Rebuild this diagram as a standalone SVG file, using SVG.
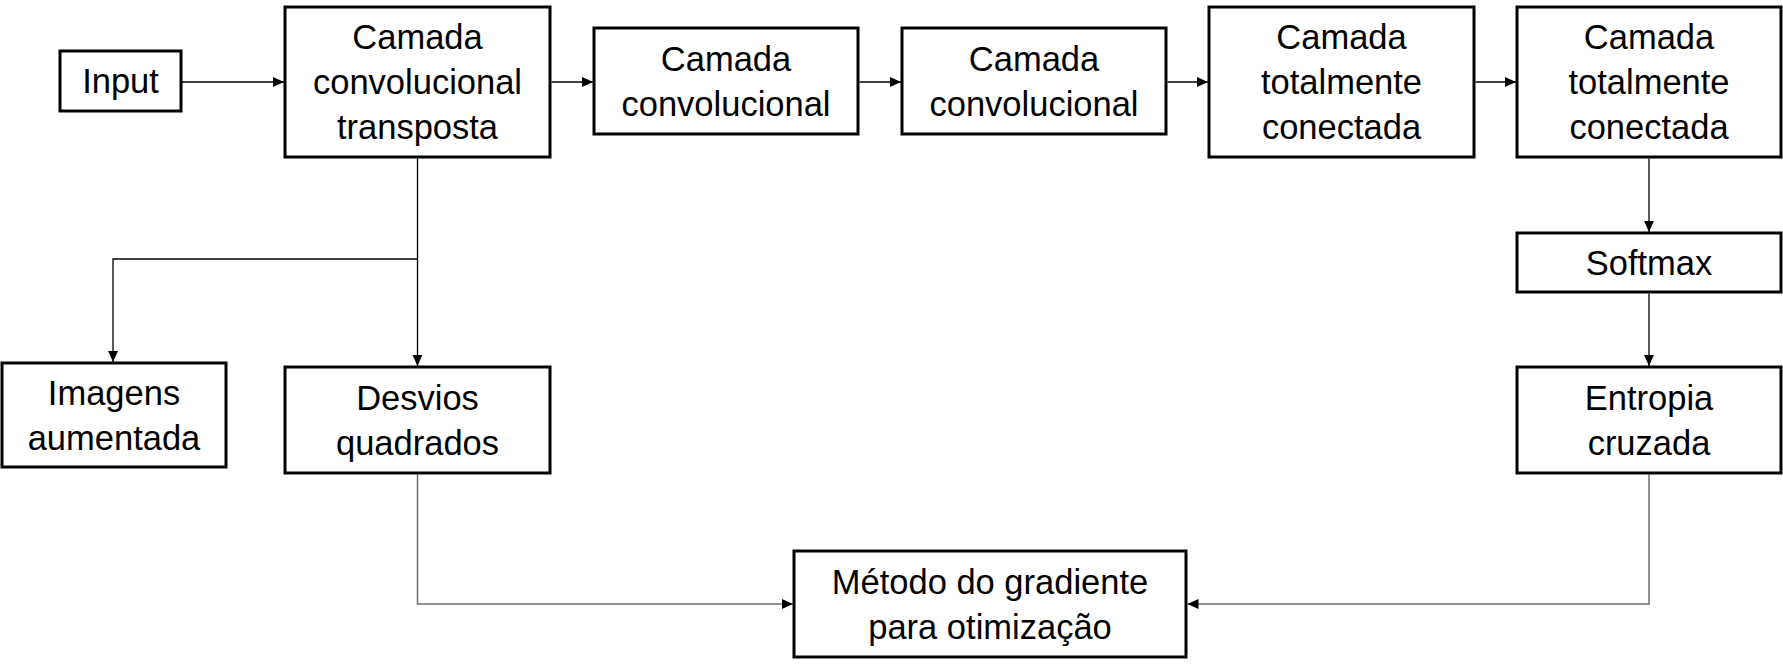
<svg xmlns="http://www.w3.org/2000/svg" width="1783" height="672" viewBox="0 0 1783 672">
<style>
.box{fill:#fff;stroke:#000;stroke-width:3}
.t{font-family:"Liberation Sans",Arial,sans-serif;font-size:34.5px;fill:#000;text-anchor:middle}
.c{fill:none;stroke:#000;stroke-width:1.3}
.g{fill:none;stroke:#6e6e6e;stroke-width:1.5}
</style>
<defs>
<marker id="ah" viewBox="0 0 10 10" refX="10" refY="5" markerWidth="11" markerHeight="11" markerUnits="userSpaceOnUse" orient="auto">
<path d="M0,0.5 L10,5 L0,9.5 z" fill="#000"/>
</marker>
</defs>
<rect width="1783" height="672" fill="#fff"/>
<g id="connectors">
<path class="c" d="M181.5,82 H284" marker-end="url(#ah)"/>
<path class="c" d="M551.5,82 H593" marker-end="url(#ah)"/>
<path class="c" d="M859.5,82 H901" marker-end="url(#ah)"/>
<path class="c" d="M1167.5,82 H1208" marker-end="url(#ah)"/>
<path class="c" d="M1475.5,82 H1516" marker-end="url(#ah)"/>
<path class="c" d="M1649,158.5 V232" marker-end="url(#ah)"/>
<path class="c" d="M1649,293.5 V366" marker-end="url(#ah)"/>
<path class="c" d="M417.5,158.5 V366" marker-end="url(#ah)"/>
<path class="c" d="M417.5,259 H113 V362" marker-end="url(#ah)"/>
<path class="g" d="M417.5,474.5 V604 H793" marker-end="url(#ah)"/>
<path class="g" d="M1649,474.5 V604 H1187.5" marker-end="url(#ah)"/>
</g>
<g id="input">
<rect class="box" x="60" y="51" width="121" height="60"/>
<text class="t" x="120.5" y="93">Input</text>
</g>
<g id="transposta">
<rect class="box" x="285" y="7" width="265" height="150"/>
<text class="t" x="417.5" y="49">Camada</text>
<text class="t" x="417.5" y="94">convolucional</text>
<text class="t" x="417.5" y="139">transposta</text>
</g>
<g id="conv1">
<rect class="box" x="594" y="28" width="264" height="106"/>
<text class="t" x="726" y="70.5">Camada</text>
<text class="t" x="726" y="115.5">convolucional</text>
</g>
<g id="conv2">
<rect class="box" x="902" y="28" width="264" height="106"/>
<text class="t" x="1034" y="70.5">Camada</text>
<text class="t" x="1034" y="115.5">convolucional</text>
</g>
<g id="fc1">
<rect class="box" x="1209" y="7" width="265" height="150"/>
<text class="t" x="1341.5" y="49">Camada</text>
<text class="t" x="1341.5" y="94">totalmente</text>
<text class="t" x="1341.5" y="139">conectada</text>
</g>
<g id="fc2">
<rect class="box" x="1517" y="7" width="264" height="150"/>
<text class="t" x="1649" y="49">Camada</text>
<text class="t" x="1649" y="94">totalmente</text>
<text class="t" x="1649" y="139">conectada</text>
</g>
<g id="softmax">
<rect class="box" x="1517" y="233" width="264" height="59"/>
<text class="t" x="1649" y="274.5">Softmax</text>
</g>
<g id="entropia">
<rect class="box" x="1517" y="367" width="264" height="106"/>
<text class="t" x="1649" y="409.5">Entropia</text>
<text class="t" x="1649" y="454.5">cruzada</text>
</g>
<g id="imagens">
<rect class="box" x="2" y="363" width="224" height="104"/>
<text class="t" x="114" y="404.5">Imagens</text>
<text class="t" x="114" y="449.5">aumentada</text>
</g>
<g id="desvios">
<rect class="box" x="285" y="367" width="265" height="106"/>
<text class="t" x="417.5" y="409.5">Desvios</text>
<text class="t" x="417.5" y="454.5">quadrados</text>
</g>
<g id="gradiente">
<rect class="box" x="794" y="551" width="392" height="106"/>
<text class="t" x="990" y="593.5">Método do gradiente</text>
<text class="t" x="990" y="638.5">para otimização</text>
</g>
</svg>
